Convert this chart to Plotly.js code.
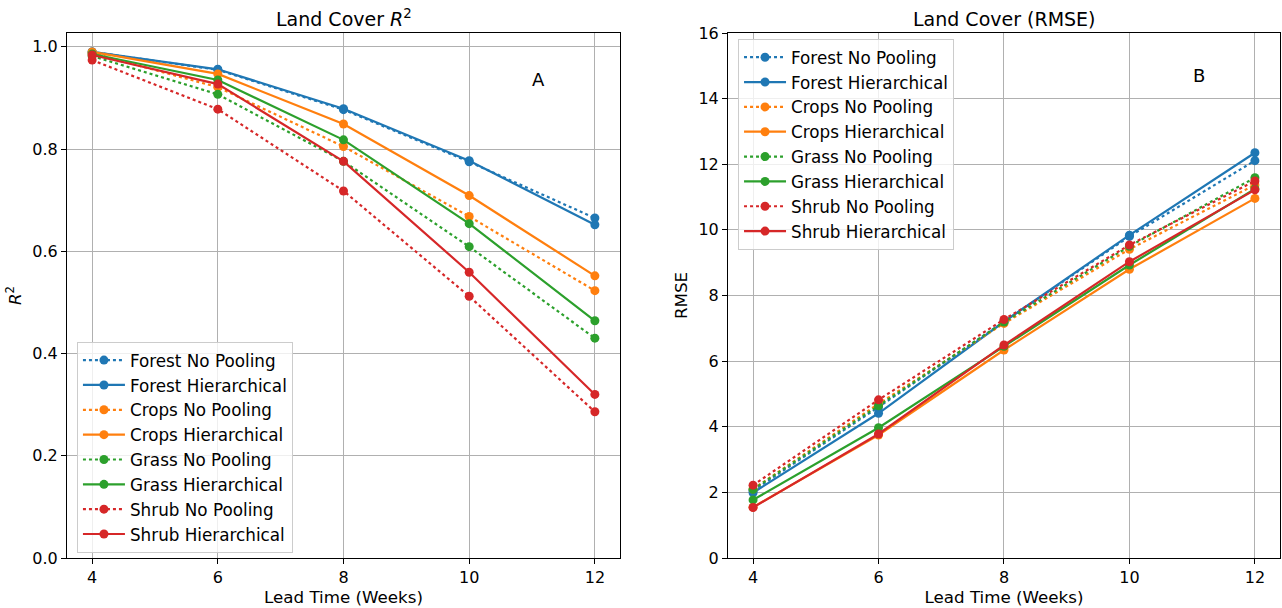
<!DOCTYPE html>
<html>
<head>
<meta charset="utf-8">
<script src="https://cdn.plot.ly/plotly-3.0.1.min.js"></script>
<style>html,body{margin:0;padding:0;background:#fff;}#chart{width:1282px;height:608px;}</style>
</head>
<body>
<div id="chart"></div>
<script>
const leadTimes = [4, 6, 8, 10, 12];
const landCovers = ["Forest", "Crops", "Grass", "Shrub"];
const colors = ["#1f77b4", "#ff7f0e", "#2ca02c", "#d62728"];

// R^2 values
const r2ForestNoPool = [0.990, 0.955, 0.877, 0.775, 0.665];
const r2ForestHier   = [0.990, 0.956, 0.879, 0.777, 0.652];
const r2CropsNoPool  = [0.988, 0.921, 0.805, 0.668, 0.523];
const r2CropsHier    = [0.990, 0.947, 0.849, 0.709, 0.552];
const r2GrassNoPool  = [0.982, 0.907, 0.776, 0.609, 0.430];
const r2GrassHier    = [0.986, 0.935, 0.818, 0.654, 0.464];
const r2ShrubNoPool  = [0.974, 0.878, 0.718, 0.512, 0.286];
const r2ShrubHier    = [0.984, 0.927, 0.776, 0.559, 0.320];

// RMSE values
const rmseForestNoPool = [2.05, 4.60, 7.20, 9.80, 12.11];
const rmseForestHier   = [1.99, 4.41, 7.20, 9.84, 12.35];
const rmseCropsNoPool  = [2.10, 4.70, 7.15, 9.41, 11.37];
const rmseCropsHier    = [1.55, 3.75, 6.34, 8.80, 10.96];
const rmseGrassNoPool  = [2.09, 4.64, 7.19, 9.50, 11.59];
const rmseGrassHier    = [1.77, 3.97, 6.45, 8.93, 11.25];
const rmseShrubNoPool  = [2.22, 4.82, 7.27, 9.54, 11.49];
const rmseShrubHier    = [1.54, 3.78, 6.49, 9.03, 11.22];

const r2Series = [
  [r2ForestNoPool, r2ForestHier],
  [r2CropsNoPool, r2CropsHier],
  [r2GrassNoPool, r2GrassHier],
  [r2ShrubNoPool, r2ShrubHier]
];
const rmseSeries = [
  [rmseForestNoPool, rmseForestHier],
  [rmseCropsNoPool, rmseCropsHier],
  [rmseGrassNoPool, rmseGrassHier],
  [rmseShrubNoPool, rmseShrubHier]
];
const methods = ["No Pooling", "Hierarchical"];
const dashes = ["dot", "solid"];

const traces = [];
function addTraces(series, xa, ya, legendName) {
  landCovers.forEach((lc, i) => {
    methods.forEach((m, j) => {
      traces.push({
        x: leadTimes, y: series[i][j], type: "scatter", mode: "lines+markers",
        name: lc + " " + m, xaxis: xa, yaxis: ya, legend: legendName,
        line: {color: colors[i], width: 2.2, dash: dashes[j]},
        marker: {color: colors[i], size: 9}
      });
    });
  });
}
addTraces(r2Series, "x", "y", "legend");
addTraces(rmseSeries, "x2", "y2", "legend2");

const FF = "DejaVu Sans, sans-serif";
const font = {family: FF, size: 16.5, color: "#000"};
const axisCommon = {
  showline: true, mirror: true, linecolor: "#000", linewidth: 1,
  ticks: "outside", ticklen: 5, tickcolor: "#000",
  showgrid: true, gridcolor: "#b0b0b0", gridwidth: 1, zeroline: false,
  tickfont: {family: FF, size: 16, color: "#000"}
};
const legendCommon = {
  bgcolor: "rgba(255,255,255,0.8)", bordercolor: "#cccccc", borderwidth: 1,
  font: {family: FF, size: 16.8, color: "#000"},
  xanchor: "left", yanchor: "top", itemwidth: 42, tracegroupgap: 0
};

const layout = {
  width: 1282, height: 608,
  margin: {l: 67, r: 2, t: 33, b: 50},
  paper_bgcolor: "#fff", plot_bgcolor: "#fff",
  font: font,
  showlegend: true,
  xaxis: Object.assign({}, axisCommon, {
    domain: [0, 0.4559], range: [3.6, 12.4], tickvals: leadTimes, anchor: "y",
    title: {text: "Lead Time (Weeks)", font: {family: FF, size: 16.7}, standoff: 3}
  }),
  yaxis: Object.assign({}, axisCommon, {
    range: [0, 1.027], tickvals: [0, 0.2, 0.4, 0.6, 0.8, 1.0], tickformat: ".1f", anchor: "x",
    title: {text: "<i>R</i><sup>2</sup>", font: {family: FF, size: 16.7}, standoff: 6}
  }),
  xaxis2: Object.assign({}, axisCommon, {
    domain: [0.5449, 1], range: [3.6, 12.4], tickvals: leadTimes, anchor: "y2",
    title: {text: "Lead Time (Weeks)", font: {family: FF, size: 16.7}, standoff: 3}
  }),
  yaxis2: Object.assign({}, axisCommon, {
    range: [0, 16], tickvals: [0, 2, 4, 6, 8, 10, 12, 14, 16], anchor: "x2",
    title: {text: "RMSE", font: {family: FF, size: 16.7}, standoff: 6}
  }),
  legend: Object.assign({}, legendCommon, {x: 0.0082, y: 0.412}),
  legend2: Object.assign({}, legendCommon, {x: 0.5532, y: 0.989}),
  annotations: [
    {text: "Land Cover <i>R</i><sup>2</sup>", xref: "paper", yref: "paper", x: 0.228, y: 1.0, xanchor: "center", yanchor: "bottom", showarrow: false, font: {family: FF, size: 19}, yshift: 1},
    {text: "Land Cover (RMSE)", xref: "paper", yref: "paper", x: 0.7725, y: 1.0, xanchor: "center", yanchor: "bottom", showarrow: false, font: {family: FF, size: 19}, yshift: 1},
    {text: "A", xref: "x", yref: "y domain", x: 11.11, y: 0.935, showarrow: false, font: {family: FF, size: 18}},
    {text: "B", xref: "x2", yref: "y2 domain", x: 11.11, y: 0.943, showarrow: false, font: {family: FF, size: 18}}
  ]
};

Plotly.newPlot("chart", traces, layout, {displayModeBar: false, staticPlot: true});
</script>
</body>
</html>
